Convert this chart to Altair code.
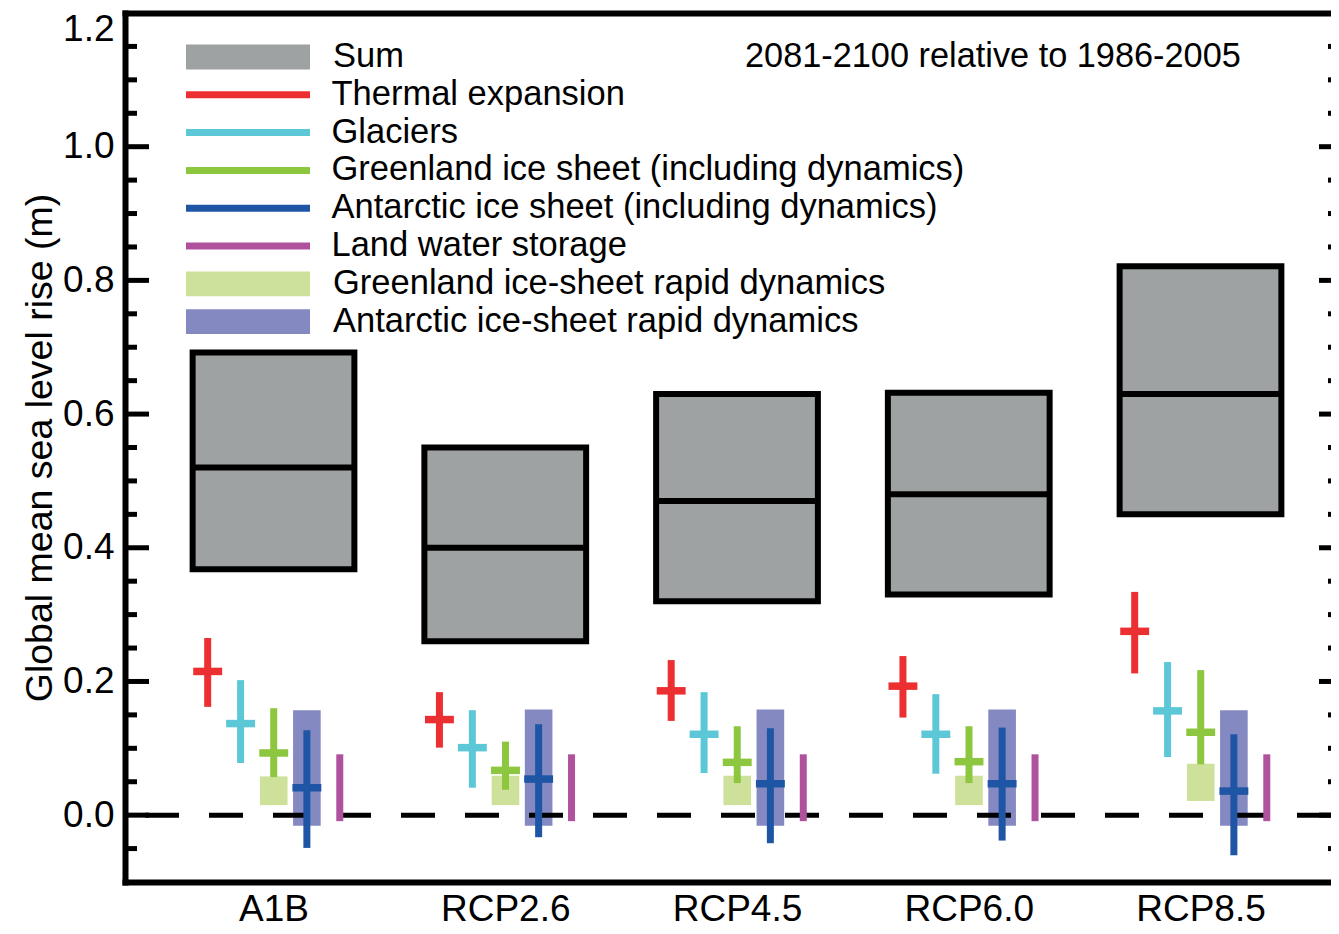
import altair as alt
import pandas as pd

# ---------------- data ----------------
scenarios = ["A1B", "RCP2.6", "RCP4.5", "RCP6.0", "RCP8.5"]
components = [
    "Thermal expansion",
    "Glaciers",
    "Greenland ice sheet (including dynamics)",
    "Antarctic ice sheet (including dynamics)",
    "Land water storage",
]
rapid_items = ["Greenland ice-sheet rapid dynamics", "Antarctic ice-sheet rapid dynamics"]
sum_item = ["Sum"]
sum_color = ["#9ea2a2"]
comp_colors = ["#ec2f30", "#5bc7d7", "#8dc63f", "#1e55a4", "#b0519e"]
rapid_colors = ["#cde19b", "#8589c2"]

sum_median = [0.52, 0.40, 0.47, 0.48, 0.63]
sum_low = [0.368, 0.26, 0.32, 0.33, 0.45]
sum_high = [0.692, 0.55, 0.63, 0.632, 0.821]

thermal_median = [0.215, 0.143, 0.186, 0.193, 0.275]
thermal_low = [0.162, 0.101, 0.141, 0.146, 0.212]
thermal_high = [0.265, 0.184, 0.232, 0.238, 0.334]

glaciers_median = [0.137, 0.101, 0.121, 0.121, 0.156]
glaciers_low = [0.078, 0.041, 0.063, 0.062, 0.087]
glaciers_high = [0.202, 0.157, 0.184, 0.181, 0.229]

greenland_median = [0.093, 0.067, 0.079, 0.080, 0.124]
greenland_low = [0.057, 0.038, 0.048, 0.048, 0.076]
greenland_high = [0.160, 0.110, 0.133, 0.133, 0.217]

antarctic_median = [0.041, 0.054, 0.047, 0.047, 0.036]
antarctic_low = [-0.049, -0.033, -0.042, -0.038, -0.060]
antarctic_high = [0.127, 0.136, 0.130, 0.131, 0.121]

landwater_low = [-0.009, -0.009, -0.009, -0.009, -0.009]
landwater_high = [0.091, 0.091, 0.091, 0.091, 0.091]

greenland_rapid_low = [0.015, 0.015, 0.015, 0.015, 0.021]
greenland_rapid_high = [0.058, 0.059, 0.059, 0.059, 0.077]

antarctic_rapid_low = [-0.016, -0.016, -0.016, -0.016, -0.016]
antarctic_rapid_high = [0.157, 0.158, 0.158, 0.158, 0.157]

zero_line = [0.0]
major_ticks = [0.0, 0.2, 0.4, 0.6, 0.8, 1.0]
minor_ticks = [-0.05, 0.05, 0.10, 0.15, 0.25, 0.30, 0.35, 0.45, 0.50, 0.55,
               0.65, 0.70, 0.75, 0.85, 0.90, 0.95, 1.05, 1.10, 1.15]
y_labels = [0.0, 0.2, 0.4, 0.6, 0.8, 1.0, 1.2]
annotation = ["2081-2100 relative to 1986-2005"]
y_title = "Global mean sea level rise (m)"

# ---------------- layout constants ----------------
W, H = 1206, 869
XMIN, XMAX = 0.3592, 5.5631
comp_offset = [-0.284, -0.142, 0.001, 0.144, 0.286]
half_box = 0.349
half_bar = 0.0624
half_rapid = 0.0596
FONT = "Liberation Sans"
ROW = 37.8          # legend row pitch (px)
CLIP = 36           # legend row height (px)
LEG_X = 61
LEG_ROW0 = 44       # centre of first legend row (px from plot top)
LEG_FONT = 34.5

# ---------------- tables ----------------
sum_rows, rapid_rows = [], []
for i, s in enumerate(scenarios):
    c = i + 1
    sum_rows.append(dict(item=sum_item[0], x1=c - half_box, x2=c + half_box,
                         lo=sum_low[i], hi=sum_high[i], med=sum_median[i]))
    g = c + comp_offset[2]
    a = c + comp_offset[3]
    rapid_rows.append(dict(item=rapid_items[0], x1=g - half_rapid, x2=g + half_rapid,
                           lo=greenland_rapid_low[i], hi=greenland_rapid_high[i]))
    rapid_rows.append(dict(item=rapid_items[1], x1=a - half_rapid, x2=a + half_rapid,
                           lo=antarctic_rapid_low[i], hi=antarctic_rapid_high[i]))
df_sum = pd.DataFrame(sum_rows)
df_rapid = pd.DataFrame(rapid_rows)

comp_med = [thermal_median, glaciers_median, greenland_median, antarctic_median, None]
comp_low = [thermal_low, glaciers_low, greenland_low, antarctic_low, landwater_low]
comp_high = [thermal_high, glaciers_high, greenland_high, antarctic_high, landwater_high]

range_rows, bar_rows = [], []
for i, s in enumerate(scenarios):
    for k, comp in enumerate(components):
        x = i + 1 + comp_offset[k]
        range_rows.append(dict(comp=comp, x=x, lo=comp_low[k][i], hi=comp_high[k][i]))
        if comp_med[k] is not None:
            bar_rows.append(dict(comp=comp, x1=x - half_bar, x2=x + half_bar, med=comp_med[k][i]))
df_range = pd.DataFrame(range_rows)
df_bar = pd.DataFrame(bar_rows)

# ---------------- scales / axes ----------------
xs = alt.Scale(domain=[XMIN, XMAX], nice=False, zero=False)
ys = alt.Scale(domain=[-0.1, 1.2], nice=False, zero=False)

label_js = "[" + ",".join("'%s'" % s for s in scenarios) + "]"
bottom_axis = alt.Axis(
    orient="bottom", values=[1, 2, 3, 4, 5], labelExpr=label_js + "[round(datum.value) - 1]",
    ticks=False, domainWidth=6, domainColor="black", domainCap="square",
    labelFontSize=37, labelColor="black", labelPadding=9, title=None,
)
top_axis = alt.Axis(orient="top", labels=False, ticks=False, domainWidth=6,
                    domainColor="black", domainCap="square", title=None)
left_axis = alt.Axis(
    orient="left", values=y_labels, format=".1f", ticks=False,
    domainWidth=6, domainColor="black", domainCap="square",
    labelFontSize=37, labelColor="black", labelPadding=11,
    labelFlush=True, labelFlushOffset=2,
    title=y_title, titleFontSize=37.5, titleFontWeight="normal", titleColor="black",
    titlePadding=3,
)

BOX_PATH = "M-1,-0.2H1V0.2H-1Z"


def box_legend(first_row):
    return alt.Legend(
        title=None, orient="none", legendX=LEG_X, legendY=LEG_ROW0 + first_row * ROW - CLIP / 2,
        direction="vertical", labelFontSize=LEG_FONT, labelColor="black", labelFont=FONT,
        labelLimit=900, labelOffset=23, symbolSize=15376, symbolType=BOX_PATH,
        symbolStrokeWidth=0, symbolOpacity=1, clipHeight=CLIP, rowPadding=ROW - CLIP, padding=0,
    )


line_legend = alt.Legend(
    title=None, orient="none", legendX=LEG_X, legendY=LEG_ROW0 + 1 * ROW - CLIP / 2,
    direction="vertical", labelFontSize=LEG_FONT, labelColor="black", labelFont=FONT,
    labelLimit=900, labelOffset=18, symbolSize=15376, symbolType="stroke",
    symbolStrokeWidth=7, symbolOffset=-3.5, symbolOpacity=1, clipHeight=CLIP,
    rowPadding=ROW - CLIP, padding=0,
)

# ---------------- layers ----------------
sums = alt.Chart(df_sum).mark_rect().encode(
    x=alt.X("x1:Q", scale=xs, axis=bottom_axis),
    x2="x2:Q",
    y=alt.Y("lo:Q", scale=ys, axis=left_axis),
    y2="hi:Q",
    fill=alt.Fill("item:N", scale=alt.Scale(domain=sum_item, range=sum_color),
                  legend=box_legend(0)),
)

borders = alt.Chart(df_sum).mark_rect(filled=False, color="black", strokeWidth=6).encode(
    x=alt.X("x1:Q", scale=xs, axis=top_axis),
    x2="x2:Q",
    y=alt.Y("lo:Q", scale=ys, axis=None),
    y2="hi:Q",
)

medians = alt.Chart(df_sum).mark_rule(color="black", strokeWidth=6).encode(
    x=alt.X("x1:Q", scale=xs, axis=None),
    x2="x2:Q",
    y=alt.Y("med:Q", scale=ys, axis=None),
)

rapids = alt.Chart(df_rapid).mark_rect().encode(
    x=alt.X("x1:Q", scale=xs, axis=None),
    x2="x2:Q",
    y=alt.Y("lo:Q", scale=ys, axis=None),
    y2="hi:Q",
    fill=alt.Fill("item:N", scale=alt.Scale(domain=rapid_items, range=rapid_colors),
                  legend=box_legend(6)),
)

zero = alt.Chart(pd.DataFrame({"v": zero_line})).mark_rule(
    color="black", strokeWidth=5, strokeDash=[34, 30]
).encode(y=alt.Y("v:Q", scale=ys, axis=None))

comp_color = alt.Color("comp:N", scale=alt.Scale(domain=components, range=comp_colors),
                       legend=line_legend)

ranges = alt.Chart(df_range).mark_rule(strokeWidth=7).encode(
    x=alt.X("x:Q", scale=xs, axis=None),
    y=alt.Y("lo:Q", scale=ys, axis=None),
    y2="hi:Q",
    color=comp_color,
)

bars = alt.Chart(df_bar).mark_rule(strokeWidth=7.5).encode(
    x=alt.X("x1:Q", scale=xs, axis=None),
    x2="x2:Q",
    y=alt.Y("med:Q", scale=ys, axis=None),
    color=comp_color,
)


def tick_layer(vals, x_a, x_b):
    return alt.Chart(pd.DataFrame({"v": vals})).mark_rule(color="black", strokeWidth=5).encode(
        x=alt.value(x_a), x2=alt.value(x_b), y=alt.Y("v:Q", scale=ys, axis=None))


ticks = [
    tick_layer(major_ticks, 0, 24),
    tick_layer(minor_ticks, 0, 12),
    tick_layer(major_ticks, W - 12, W + 10),
    tick_layer(minor_ticks, W - 3, W + 10),
]

note = alt.Chart(pd.DataFrame({"t": annotation})).mark_text(
    align="left", baseline="middle", fontSize=34.3, color="black", font=FONT
).encode(x=alt.value(620), y=alt.value(44), text="t:N")

chart = alt.layer(sums, borders, medians, rapids, zero, ranges, bars, *ticks, note).resolve_axis(
    x="independent", y="independent"
).resolve_scale(fill="independent").properties(
    width=W, height=H,
    autosize=alt.AutoSizeParams(type="none"),
    padding={"left": 117, "top": 5, "right": 0, "bottom": 40},
).configure(font=FONT).configure_view(strokeWidth=0).configure_axis(grid=False)

chart.save("out.html", embed_options={"renderer": "svg", "actions": False})
